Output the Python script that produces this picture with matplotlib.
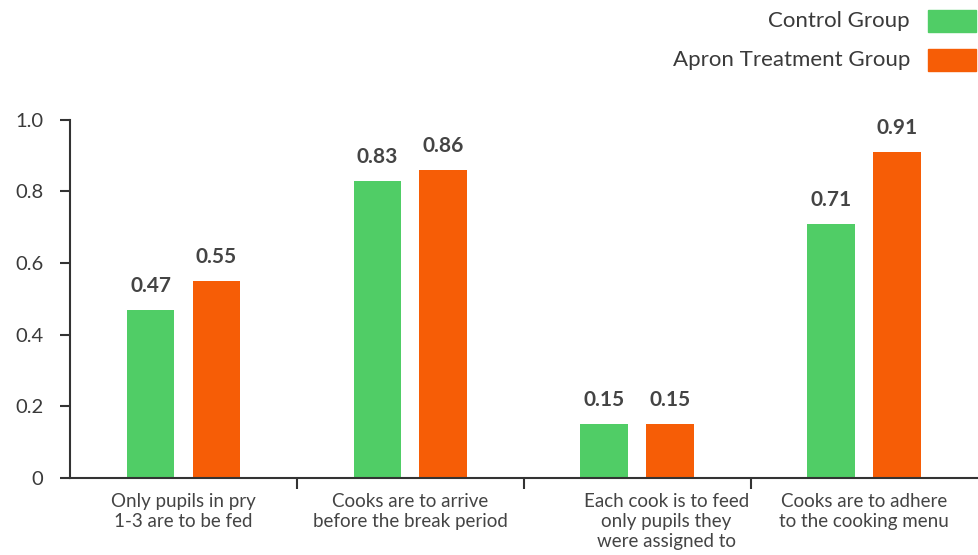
import matplotlib.pyplot as plt
import matplotlib.transforms as mtransforms
import numpy as np

categories = [
    "Only pupils in pry\n1-3 are to be fed",
    "Cooks are to arrive\nbefore the break period",
    "Each cook is to feed\nonly pupils they\nwere assigned to",
    "Cooks are to adhere\nto the cooking menu",
]
control = [0.47, 0.83, 0.15, 0.71]
apron = [0.55, 0.86, 0.15, 0.91]
series_names = ["Control Group", "Apron Treatment Group"]
colors = ["#50CD66", "#F65D06"]
text_color = "#3a3a3a"

plt.rcParams["font.family"] = ["Lato", "DejaVu Sans"]

fig = plt.figure(figsize=(9.79, 5.55), dpi=100)
ax = fig.add_axes([0.0715, 0.139, 0.927, 0.645])

x = np.arange(len(categories))
w = 0.21
off = 0.145
bars1 = ax.bar(x - off, control, w, color=colors[0])
bars2 = ax.bar(x + off, apron, w, color=colors[1])

for bars, vals in [(bars1, control), (bars2, apron)]:
    for b, v in zip(bars, vals):
        ax.annotate(f"{v:.2f}", (b.get_x() + b.get_width() / 2, b.get_height()),
                    xytext=(0, 10), textcoords="offset points",
                    ha="center", va="bottom", fontsize=15,
                    fontweight="bold", color="#444444")

ax.set_xlim(-0.5, len(categories) - 0.5)
ax.set_ylim(0, 1.0)
ax.set_yticks([0, 0.2, 0.4, 0.6, 0.8, 1.0])
ax.set_yticklabels(["0", "0.2", "0.4", "0.6", "0.8", "1.0"])
ax.tick_params(axis="y", length=7, width=1.5, pad=12, labelsize=14.5,
               colors="#333333", labelcolor=text_color)

ax.set_xticks(x)
ax.set_xticklabels(categories, fontsize=13.5, color="#444444", linespacing=1.22)
ax.tick_params(axis="x", which="major", length=0, pad=11)
ax.set_xticks(x[:-1] + 0.5, minor=True)
ax.tick_params(axis="x", which="minor", length=8, width=1.5, color="#333333")

# third label sits a bit to the right in the original
lab = ax.get_xticklabels()[2]
lab.set_transform(lab.get_transform() +
                  mtransforms.ScaledTranslation(0.29, 0, fig.dpi_scale_trans))

for s in ["top", "right"]:
    ax.spines[s].set_visible(False)
for s in ["left", "bottom"]:
    ax.spines[s].set_linewidth(1.5)
    ax.spines[s].set_color("#333333")

# legend drawn at top right
for i, (name, c) in enumerate(zip(series_names, colors)):
    yc = 1 - (21 + 39 * i) / 555
    fig.patches.append(plt.Rectangle((928 / 979, yc - 10.5 / 555), 48 / 979, 21 / 555,
                                     color=c, transform=fig.transFigure))
    fig.text(910 / 979, yc, name, ha="right", va="center", fontsize=16,
             color=text_color)

fig.savefig("out.png", dpi=100)
